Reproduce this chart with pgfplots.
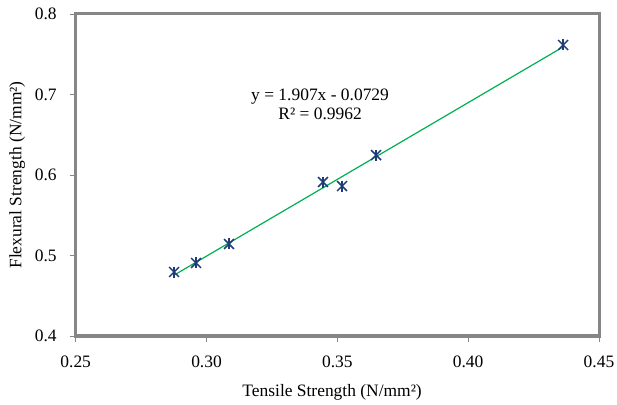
\documentclass[border=0pt]{standalone}
\usepackage{pgfplots}
\pgfplotsset{compat=1.18}
\usepackage{fontspec}
\setmainfont{Liberation Serif}
\definecolor{frame}{HTML}{868686}
\definecolor{trend}{HTML}{00B050}
\definecolor{mk}{HTML}{1F3C78}
\begin{document}
\fontsize{17.5}{20}\selectfont
\begin{tikzpicture}
\path[use as bounding box] (0,0) rectangle (617bp,405bp);
\begin{axis}[
  at={(75.7bp,69bp)}, anchor=south west,
  scale only axis, width=523.3bp, height=322bp,
  xmin=0.25, xmax=0.45, ymin=0.4, ymax=0.8,
  xtick={0.25,0.30,0.35,0.40,0.45},
  ytick={0.4,0.5,0.6,0.7,0.8},
  xticklabels={0.25,0.30,0.35,0.40,0.45},
  yticklabels={0.4,0.5,0.6,0.7,0.8},
  xtick pos=bottom, ytick pos=left,
  tick align=outside, major tick length=6bp,
  tick style={frame, line width=0.8bp},
  axis line style={frame, line width=3bp},
  every axis plot/.append style={clip=false},
  ticklabel style={font=\fontsize{17.5}{20}\selectfont},
  xticklabel style={yshift=-8bp},
  yticklabel style={xshift=-7bp},
  label style={font=\fontsize{17.5}{20}\selectfont},
  xlabel={Tensile Strength (N/mm²)},
  ylabel={Flexural Strength (N/mm²)},
  xlabel style={at={(axis description cs:0.49,-0.174)}, anchor=center},
  ylabel style={at={(axis description cs:-0.112,0.5)}, anchor=center, rotate=0},
]
\addplot[trend, line width=1.2bp, no markers] coordinates {(0.2876,0.4756) (0.4363,0.7591)};
\addplot[only marks, mark=x, mark size=7bp, mark options={mk, line width=1.5bp}] coordinates {
(0.2876,0.4795) (0.2960,0.4907) (0.3086,0.5143) (0.3445,0.5913) (0.3518,0.5863) (0.3648,0.6248) (0.4363,0.7615)};
\addplot[only marks, mark=|, mark size=5.5bp, mark options={mk, line width=1.5bp}] coordinates {
(0.2876,0.4795) (0.2960,0.4907) (0.3086,0.5143) (0.3445,0.5913) (0.3518,0.5863) (0.3648,0.6248) (0.4363,0.7615)};
\node[align=center, font=\fontsize{17.5}{18.5}\selectfont] at (axis cs:0.3434,0.688) {y = 1.907x - 0.0729\\R² = 0.9962};
\end{axis}
\end{tikzpicture}
\end{document}
